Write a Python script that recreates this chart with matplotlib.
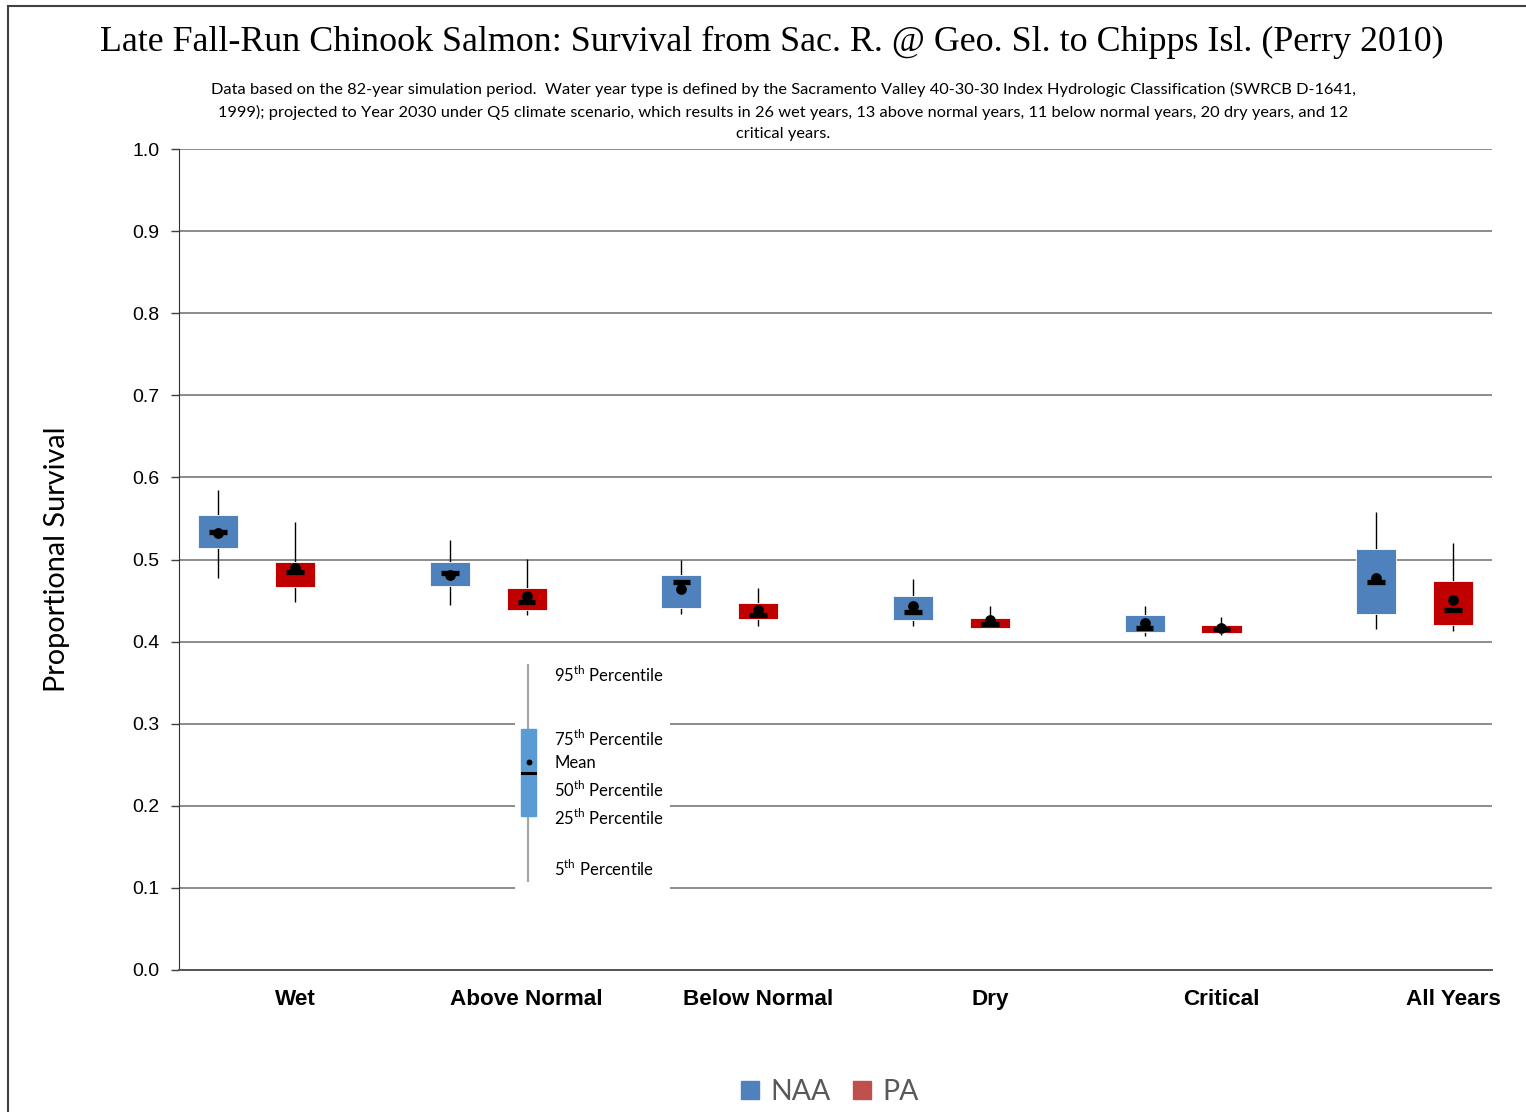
import numpy as np
import matplotlib
matplotlib.use("Agg")
import matplotlib.pyplot as plt
from matplotlib.patches import Rectangle

# --------------------------------------------------
# Data: survival percentiles by water year type
# --------------------------------------------------

categories = ["Wet", "Above Normal", "Below Normal", "Dry", "Critical", "All Years"]

naa_p5 = [0.477, 0.444, 0.434, 0.419, 0.407, 0.415]
naa_p25 = [0.514, 0.468, 0.441, 0.426, 0.412, 0.434]
naa_p50 = [0.534, 0.484, 0.473, 0.436, 0.417, 0.473]
naa_mean = [0.532, 0.481, 0.464, 0.443, 0.423, 0.478]
naa_p75 = [0.554, 0.497, 0.481, 0.455, 0.432, 0.513]
naa_p95 = [0.585, 0.524, 0.499, 0.476, 0.443, 0.558]

pa_p5 = [0.448, 0.432, 0.419, 0.416, 0.408, 0.413]
pa_p25 = [0.466, 0.438, 0.427, 0.417, 0.411, 0.420]
pa_p50 = [0.485, 0.448, 0.432, 0.421, 0.415, 0.439]
pa_mean = [0.490, 0.456, 0.438, 0.426, 0.417, 0.451]
pa_p75 = [0.497, 0.465, 0.447, 0.429, 0.420, 0.474]
pa_p95 = [0.546, 0.501, 0.465, 0.443, 0.430, 0.520]

# key graphic values (illustrative)
key_values = [0.107, 0.188, 0.240, 0.253, 0.294, 0.373]
key_labels = [
    "5$^{\\mathregular{th}}$ Percentile",
    "25$^{\\mathregular{th}}$ Percentile",
    "50$^{\\mathregular{th}}$ Percentile",
    "Mean",
    "75$^{\\mathregular{th}}$ Percentile",
    "95$^{\\mathregular{th}}$ Percentile",
]
# label rows of the key, in pixels from the top of the figure
key_label_rows = [869, 818, 790, 763, 739, 675]

TITLE = "Late Fall-Run Chinook Salmon: Survival from Sac. R. @ Geo. Sl. to Chipps Isl. (Perry 2010)"
SUBTITLE = (
    "Data based on the 82-year simulation period.  Water year type is defined by the "
    "Sacramento Valley 40-30-30 Index Hydrologic Classification (SWRCB D-1641,\n"
    "1999); projected to Year 2030 under Q5 climate scenario, which results in 26 wet "
    "years, 13 above normal years, 11 below normal years, 20 dry years, and 12\n"
    "critical years."
)

BLUE = "#4F81BD"
RED = "#C00000"
LEGEND_RED = "#C0504D"
SANS = "Lato"

# --------------------------------------------------
# Figure
# --------------------------------------------------

W, H = 1526, 1112
fig = plt.figure(figsize=(W / 100, H / 100), dpi=100)


def px_axes(x0, y0, x1, y1):
    # pixel box (top-left origin) -> figure fraction
    return [x0 / W, 1 - y1 / H, (x1 - x0) / W, (y1 - y0) / H]


ax = fig.add_axes(px_axes(179, 149, 1492, 970))

x = np.arange(len(categories))
offset = 0.332
width = 0.173


def draw_boxes(pos, p5, p25, p50, mean, p75, p95, color):
    p5, p25, p50 = np.array(p5), np.array(p25), np.array(p50)
    mean, p75, p95 = np.array(mean), np.array(p75), np.array(p95)

    ax.vlines(pos, p5, p95, color="black", linewidth=1.0, zorder=2)

    ax.bar(
        pos,
        p75 - p25,
        bottom=p25,
        width=width,
        color=color,
        edgecolor="white",
        linewidth=0.6,
        zorder=3
    )

    for xi, m in zip(pos, p50):
        ax.plot(
            [xi - 0.038, xi + 0.038],
            [m, m],
            color="black",
            linewidth=3.8,
            solid_capstyle="butt",
            zorder=4
        )

    ax.scatter(pos, mean, s=60, color="black", zorder=5, linewidths=0)


draw_boxes(x - offset, naa_p5, naa_p25, naa_p50, naa_mean, naa_p75, naa_p95, BLUE)
draw_boxes(x, pa_p5, pa_p25, pa_p50, pa_mean, pa_p75, pa_p95, RED)

ax.set_xlim(-0.501, 5.168)
ax.set_ylim(0, 1)
ax.set_yticks(np.arange(0, 1.01, 0.1))
ax.set_yticklabels([f"{v:.1f}" for v in np.arange(0, 1.01, 0.1)],
                   fontsize=14, family="Liberation Sans")
ax.set_xticks(x)
ax.set_xticklabels(categories, fontsize=16.2, fontweight="bold",
                   family="Liberation Sans")

ax.tick_params(axis="x", length=0, pad=14)
ax.tick_params(axis="y", length=6, width=1, color="#404040", pad=8)

ax.grid(axis="y", color="#8c8c8c", linewidth=1.4)
ax.set_axisbelow(True)

for side in ["top", "right"]:
    ax.spines[side].set_visible(False)
ax.spines["left"].set_color("#303030")
ax.spines["bottom"].set_color("#555555")
ax.spines["bottom"].set_linewidth(1.4)

ax.set_ylabel("Proportional Survival", fontsize=20.8, family=SANS, labelpad=45)

# --------------------------------------------------
# Titles
# --------------------------------------------------

fig.text(771.5 / W, 1 - 42.5 / H, TITLE, ha="center", va="center",
         fontsize=25.8, family="Liberation Serif")

fig.text(0.5133, 1 - 111.5 / H, SUBTITLE, ha="center", va="center",
         fontsize=11.8, family=SANS, linespacing=1.66)

# --------------------------------------------------
# Key graphic
# --------------------------------------------------

KEY_TOP, KEY_BOTTOM = 650, 893
kax = fig.add_axes(px_axes(515, KEY_TOP, 670, KEY_BOTTOM))
kax.set_facecolor("white")
kax.set_xlim(515, 670)
kax.set_ylim(KEY_BOTTOM, KEY_TOP)
kax.axis("off")
kax.add_patch(Rectangle((515, KEY_TOP), 155, KEY_BOTTOM - KEY_TOP,
                        color="white", zorder=0))


def key_row(v):
    # survival value -> pixel row on the main axis scale
    return 970 - v * 821


k5, k25, k50, kmean, k75, k95 = [key_row(v) for v in key_values]
kax.vlines(528, k95, k5, color="#a6a6a6", linewidth=1.6, zorder=1)
kax.add_patch(Rectangle((521, k75), 15, k25 - k75, color="#5B9BD5", zorder=2))
kax.plot([522, 535], [k50, k50], color="black", linewidth=2.2, zorder=3)
kax.scatter([528.5], [kmean], s=18, color="black", zorder=4, linewidths=0)

for row, text in zip(key_label_rows, key_labels):
    kax.text(554, row, text, fontsize=12, family=SANS, va="center", ha="left")

# --------------------------------------------------
# Legend
# --------------------------------------------------

handles = [
    Rectangle((0, 0), 1, 1, color=BLUE),
    Rectangle((0, 0), 1, 1, color=LEGEND_RED),
]
leg = fig.legend(
    handles,
    ["NAA", "PA"],
    loc="center",
    bbox_to_anchor=(830 / W, 1 - 1092 / H),
    ncol=2,
    frameon=False,
    prop={"family": SANS, "size": 20.5},
    handlelength=0.62,
    handleheight=0.62,
    handletextpad=0.4,
    columnspacing=0.8,
    borderpad=0.2
)
for t in leg.get_texts():
    t.set_color("#595959")

# outer chart border
fig.patches.append(Rectangle((7.5 / W, -0.1), 2.0, 1.1 - 6 / H,
                             transform=fig.transFigure, fill=False,
                             edgecolor="#404040", linewidth=1.5))

fig.savefig("out.png", dpi=100)
